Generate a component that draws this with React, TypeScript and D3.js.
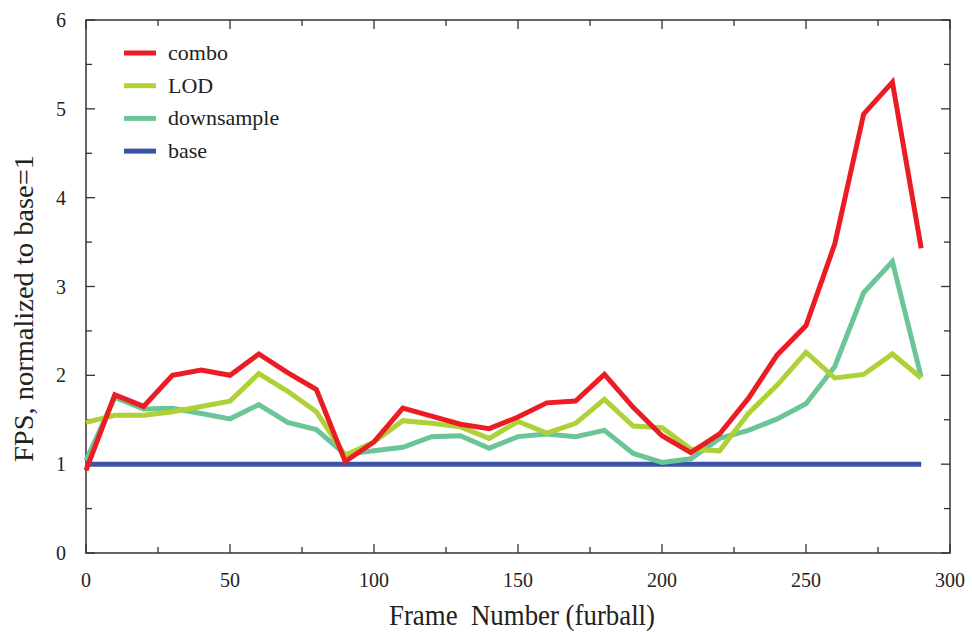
import React from 'react';
import * as d3 from 'd3';

const frames = d3.range(0, 300, 10);
const combo = [0.93, 1.78, 1.65, 2.0, 2.06, 2.0, 2.24, 2.03, 1.84, 1.03, 1.25, 1.63, 1.54, 1.45, 1.4, 1.53, 1.69, 1.71, 2.01, 1.64, 1.32, 1.13, 1.34, 1.74, 2.23, 2.56, 3.48, 4.94, 5.3, 3.43];
const lod = [1.47, 1.55, 1.55, 1.59, 1.65, 1.71, 2.02, 1.82, 1.59, 1.1, 1.25, 1.49, 1.46, 1.42, 1.29, 1.48, 1.35, 1.46, 1.73, 1.43, 1.41, 1.17, 1.15, 1.57, 1.89, 2.26, 1.97, 2.01, 2.24, 1.97];
const downsample = [1.04, 1.75, 1.62, 1.63, 1.57, 1.51, 1.67, 1.47, 1.39, 1.11, 1.15, 1.19, 1.31, 1.32, 1.18, 1.31, 1.34, 1.31, 1.38, 1.12, 1.02, 1.06, 1.29, 1.38, 1.51, 1.68, 2.1, 2.93, 3.28, 1.98];
const base = frames.map(() => 1);

const seriesNames = ['combo', 'LOD', 'downsample', 'base'];
const seriesColors = ['#ec1c24', '#add136', '#6cc597', '#3a53a4'];
const seriesValues = [combo, lod, downsample, base];

const xTicks = [0, 50, 100, 150, 200, 250, 300];
const yTicks = [0, 1, 2, 3, 4, 5, 6];

const font = 'Liberation Serif, Times New Roman, serif';

const drawChart = (ref) => {
    const width = 972;
    const height = 632;
    const margin = { top: 20, right: 22, bottom: 79, left: 86 };
    const w = width - margin.left - margin.right;
    const h = height - margin.top - margin.bottom;

    const svg = d3.select(ref.current);
    svg.selectAll('*').remove();
    svg.attr('width', width).attr('height', height);

    const g = svg.append('g').attr('transform', 'translate(' + margin.left + ',' + margin.top + ')');

    const x = d3.scaleLinear().domain([0, 300]).range([0, w]);
    const y = d3.scaleLinear().domain([0, 6]).range([h, 0]);

    const axisColor = '#333';

    // frame box
    g.append('rect')
        .attr('width', w).attr('height', h)
        .attr('fill', 'none').attr('stroke', axisColor).attr('stroke-width', 1.5);

    // inward ticks on all four sides
    const xMinor = d3.range(0, 301, 25);
    const yMinor = d3.range(0, 6.01, 0.5);
    xMinor.forEach(v => {
        const len = v % 50 === 0 ? 9 : 6;
        g.append('line').attr('x1', x(v)).attr('x2', x(v)).attr('y1', h).attr('y2', h - len)
            .attr('stroke', axisColor).attr('stroke-width', 1.3);
        g.append('line').attr('x1', x(v)).attr('x2', x(v)).attr('y1', 0).attr('y2', len)
            .attr('stroke', axisColor).attr('stroke-width', 1.3);
    });
    yMinor.forEach(v => {
        const len = v % 1 === 0 ? 9 : 6;
        g.append('line').attr('y1', y(v)).attr('y2', y(v)).attr('x1', 0).attr('x2', len)
            .attr('stroke', axisColor).attr('stroke-width', 1.3);
        g.append('line').attr('y1', y(v)).attr('y2', y(v)).attr('x1', w).attr('x2', w - len)
            .attr('stroke', axisColor).attr('stroke-width', 1.3);
    });

    // tick labels
    g.selectAll('.xl').data(xTicks).enter().append('text')
        .attr('x', d => x(d)).attr('y', h + 34)
        .attr('text-anchor', 'middle')
        .attr('font-family', font).attr('font-size', 20).attr('fill', '#222')
        .text(d => d);
    g.selectAll('.yl').data(yTicks).enter().append('text')
        .attr('x', -20).attr('y', d => y(d)).attr('dy', '0.35em')
        .attr('text-anchor', 'end')
        .attr('font-family', font).attr('font-size', 20).attr('fill', '#222')
        .text(d => d);

    // axis titles
    svg.append('text')
        .attr('x', 389).attr('y', 625)
        .attr('font-family', font).attr('font-size', 30).attr('fill', '#222')
        .attr('textLength', 266).attr('lengthAdjust', 'spacingAndGlyphs')
        .attr('xml:space', 'preserve')
        .text('Frame  Number (furball)');
    svg.append('text')
        .attr('transform', 'translate(33,462) rotate(-90)')
        .attr('font-family', font).attr('font-size', 27).attr('fill', '#222')
        .attr('textLength', 307).attr('lengthAdjust', 'spacingAndGlyphs')
        .text('FPS, normalized to base=1');

    const line = d3.line()
        .x((d, i) => x(frames[i]))
        .y(d => y(d));

    // draw base first, then downsample, LOD, combo on top
    [3, 2, 1, 0].forEach(k => {
        g.append('path')
            .datum(seriesValues[k])
            .attr('fill', 'none')
            .attr('stroke', seriesColors[k])
            .attr('stroke-width', 5)
            .attr('stroke-linejoin', 'miter')
            .attr('d', line);
    });

    // legend
    seriesNames.forEach((name, i) => {
        const ly = 33 + i * 32.7;
        g.append('line')
            .attr('x1', 38).attr('x2', 70).attr('y1', ly).attr('y2', ly)
            .attr('stroke', seriesColors[i]).attr('stroke-width', 5);
        g.append('text')
            .attr('x', 82).attr('y', ly).attr('dy', '0.32em')
            .attr('font-family', font).attr('font-size', 22).attr('fill', '#222')
            .text(name);
    });
};

function App() {
    const ref = React.useRef(null);

    React.useEffect(() => {
        drawChart(ref);
    }, []);

    return (
        <div style={{ position: 'absolute', left: 0, top: 0, background: '#fff' }}>
            <svg ref={ref} style={{ display: 'block' }} />
        </div>
    );
}

export default App;
